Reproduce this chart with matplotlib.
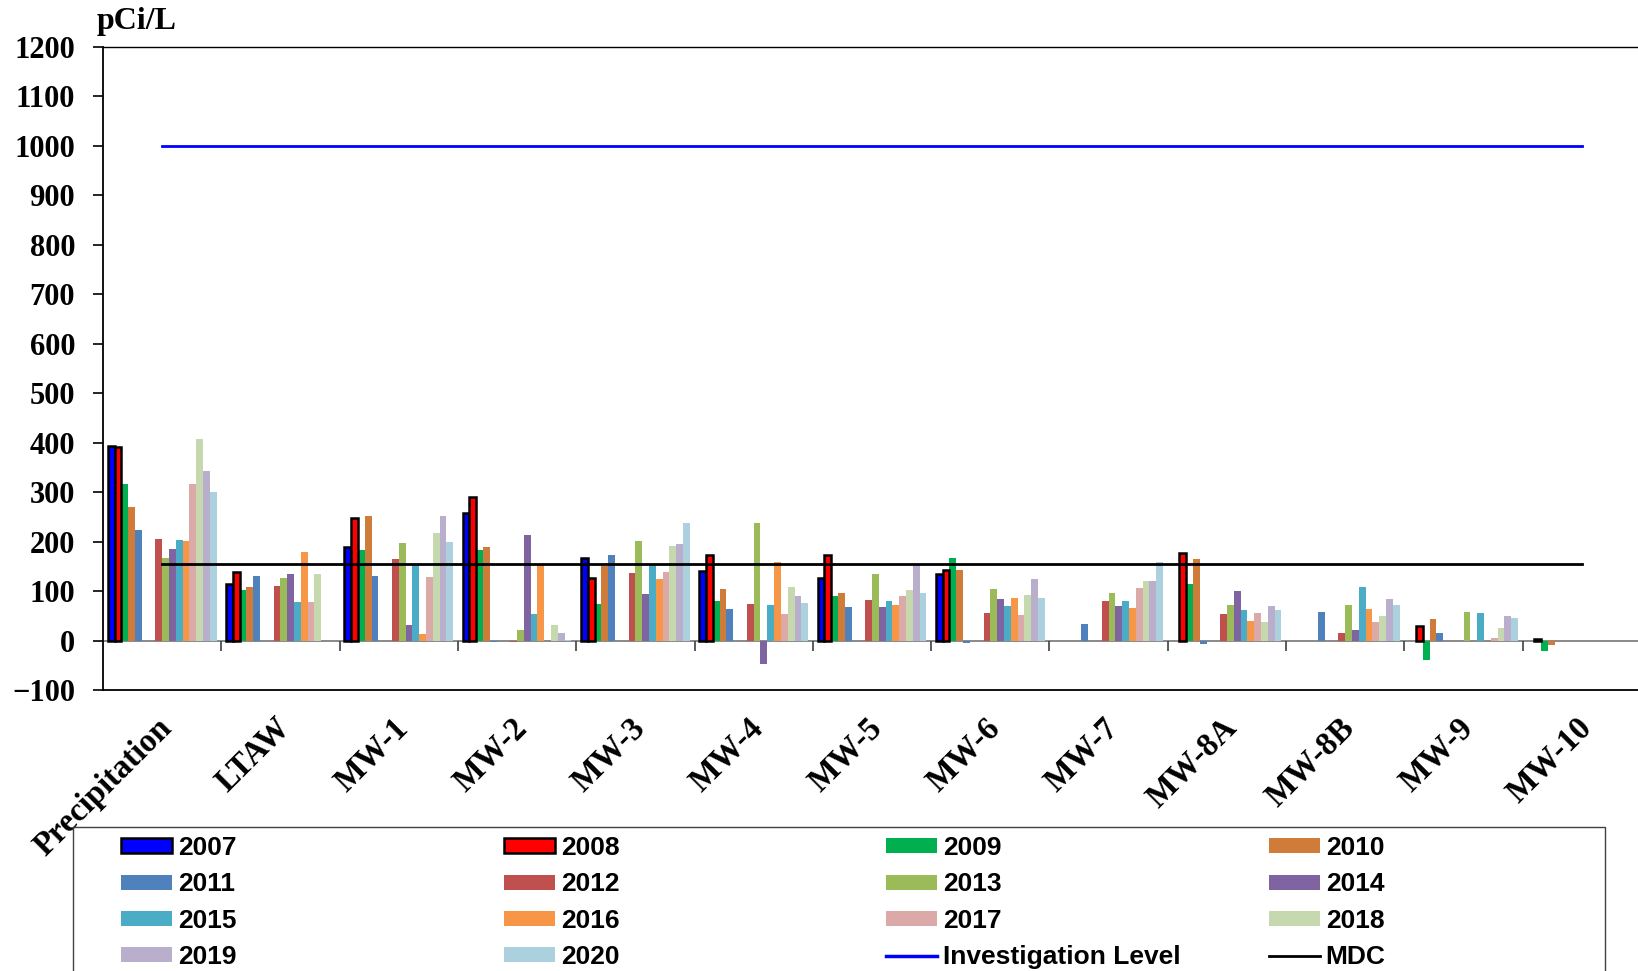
import numpy as np
import matplotlib
matplotlib.use("Agg")
import matplotlib.pyplot as plt
import matplotlib.transforms as mtransforms
from matplotlib.patches import Patch, Rectangle
from matplotlib.lines import Line2D

nan = np.nan

categories = ['Precipitation', 'LTAW', 'MW-1', 'MW-2', 'MW-3', 'MW-4', 'MW-5',
              'MW-6', 'MW-7', 'MW-8A', 'MW-8B', 'MW-9', 'MW-10']
years = ['2007', '2008', '2009', '2010', '2011', '2012', '2013',
         '2014', '2015', '2016', '2017', '2018', '2019', '2020']

# tritium results (pCi/L) per year, one value per location
v2007 = [393, 115, 190, 257, 167, 141, 127, 135, nan, nan, nan, nan, nan]
v2008 = [391, 138, 248, 291, 126, 173, 172, 142, nan, 177, nan, 30, 4]
v2009 = [316, 103, 183, 183, 73, 80, 90, 166, nan, 115, nan, -40, -22]
v2010 = [270, 109, 251, 189, 150, 104, 96, 143, nan, 165, nan, 43, -9]
v2011 = [224, 131, 130, -2, 172, 63, 68, -5, 34, -7, 58, 16, nan]
v2012 = [205, 111, 164, -3, 136, 73, 82, 56, 80, 53, 15, nan, nan]
v2013 = [166, 127, 197, 22, 201, 238, 135, 105, 96, 72, 72, 58, nan]
v2014 = [185, 135, 32, 214, 94, -47, 67, 84, 69, 100, 22, nan, nan]
v2015 = [203, 77, 152, 54, 153, 72, 80, 69, 80, 61, 109, 55, nan]
v2016 = [201, 180, 13, 153, 125, 159, 72, 86, 66, 40, 63, nan, nan]
v2017 = [316, 77, 129, nan, 138, 53, 90, 51, 107, 56, 38, 5, nan]
v2018 = [408, 135, 217, 32, 191, 109, 102, 92, 121, 37, 50, 26, nan]
v2019 = [343, nan, 251, 15, 195, 91, 154, 125, 121, 70, 83, 49, nan]
v2020 = [300, nan, 199, 1, 238, 76, 96, 86, 158, 62, 72, 46, nan]

investigation_level = 1000
mdc = 155

series = [v2007, v2008, v2009, v2010, v2011, v2012, v2013,
          v2014, v2015, v2016, v2017, v2018, v2019, v2020]
colors = ['#0000FF', '#FF0000', '#00B050', '#CF7C3B', '#4F81BD', '#C0504D',
          '#9BBB59', '#8064A2', '#4BACC6', '#F79646', '#DBA9A8', '#C6D8AE',
          '#B9AFCC', '#ABD0DE']

serif = 'Liberation Serif'
sans = 'Liberation Sans'

W, H = 1638, 971
fig = plt.figure(figsize=(W / 100, H / 100), dpi=100)
ax = fig.add_axes([103 / W, 1 - 690 / H, (1641 - 103) / W, (690 - 47) / H])

x = np.arange(len(categories))
nslots = 16
group = 0.92
w = group / nslots
for k, (vals, c) in enumerate(zip(series, colors)):
    slot = k if k < 5 else k + 2
    xs = x - group / 2 + (slot + 0.5) * w
    if k < 2:
        ax.bar(xs, vals, width=w, color=c, edgecolor='black', linewidth=1.8, zorder=3)
    else:
        ax.bar(xs, vals, width=w, color=c, linewidth=0, zorder=2)

ax.plot([x[0], x[-1]], [investigation_level] * 2, color='#0000FF', lw=2, zorder=4)
ax.plot([x[0], x[-1]], [mdc] * 2, color='black', lw=2, zorder=4)

# category axis sits at zero with tick marks between the groups
ax.axhline(0, color='#808080', lw=1.3, zorder=1)
bounds = np.arange(0.5, len(categories) - 1, 1.0)
ax.plot(bounds, np.zeros_like(bounds), ls='none', marker=3, ms=7,
        mew=1.2, color='#404040', zorder=1, clip_on=False)

ax.set_xlim(-0.5, len(categories) - 0.5)
ax.set_ylim(-100, 1200)
ax.set_yticks(np.arange(-100, 1201, 100))
ax.set_xticks([])
ax.tick_params(axis='y', length=7, width=1.2, pad=13)
for lab in ax.get_yticklabels():
    lab.set_fontfamily(serif)
    lab.set_fontweight('bold')
    lab.set_fontsize(22)

ax.spines['right'].set_visible(False)
ax.spines['left'].set_linewidth(1.3)
ax.spines['top'].set_linewidth(1.0)
ax.spines['bottom'].set_linewidth(1.3)

trans = mtransforms.blended_transform_factory(ax.transData, ax.transAxes)
trans = mtransforms.offset_copy(trans, fig=fig, x=-6, y=-22, units='dots')
for i, name in enumerate(categories):
    ax.text(i, 0, name, transform=trans, rotation=45, rotation_mode='anchor',
            ha='right', va='top', fontsize=23.5, fontweight='bold', family=serif)

fig.text(97 / W, 1 - 21 / H, 'pCi/L', ha='left', va='center', fontsize=23,
         fontweight='bold', family=serif)

# legend: four equally spaced columns inside one frame
handles = [Patch(facecolor=c, edgecolor='black' if k < 2 else c,
                 linewidth=1.8 if k < 2 else 0)
           for k, c in enumerate(colors)]
handles += [Line2D([], [], color='#0000FF', lw=2.5),
            Line2D([], [], color='black', lw=2)]
labels = years + ['Investigation Level', 'MDC']

col_x = [121, 504, 886, 1269]
for j, cx in enumerate(col_x):
    idx = list(range(j, len(labels), 4))
    fig.legend([handles[i] for i in idx], [labels[i] for i in idx],
               loc='upper left', bbox_to_anchor=(cx / W, 1 - 836 / H),
               frameon=False, borderpad=0, borderaxespad=0,
               handlelength=1.95, handleheight=0.5, handletextpad=0.2,
               labelspacing=0.47,
               prop={'family': sans, 'weight': 'bold', 'size': 19})

fig.patches.append(Rectangle((73 / W, -0.05), (1605 - 73) / W, 1 - 827 / H + 0.05,
                             transform=fig.transFigure, fill=False,
                             edgecolor='#404040', linewidth=1))

fig.savefig('out.png', dpi=100)
